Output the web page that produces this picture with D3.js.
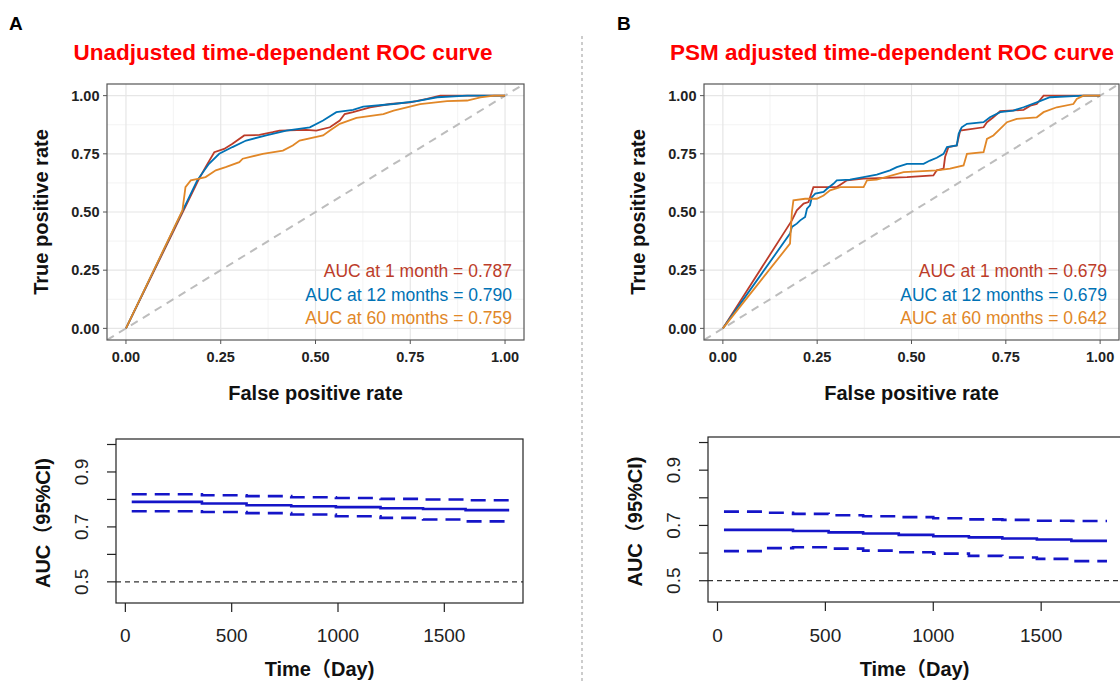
<!DOCTYPE html>
<html lang="en">
<head>
<meta charset="UTF-8">
<title>Time-dependent ROC</title>
<script src="https://cdn.jsdelivr.net/npm/d3@7"></script>
<style>
  body { margin: 0; background: #fff; }
  svg { font-family: "Liberation Sans", Arial, "Noto Sans CJK SC", sans-serif; }
</style>
</head>
<body>
<div class="chart"></div>
<script>
  // ---- ROC data, panel A (unadjusted) ----
  const fprA1  = [0, 0.193, 0.210, 0.233, 0.259, 0.281, 0.312, 0.352, 0.387, 0.405, 0.476, 0.502, 0.538, 0.564, 0.577, 0.599, 0.644, 0.697, 0.750, 0.794, 0.829, 1];
  const tprA1  = [0, 0.643, 0.693, 0.757, 0.771, 0.793, 0.829, 0.831, 0.843, 0.850, 0.853, 0.850, 0.864, 0.893, 0.921, 0.929, 0.950, 0.964, 0.971, 0.986, 1.0, 1];
  const fprA12 = [0, 0.188, 0.219, 0.246, 0.281, 0.317, 0.370, 0.423, 0.485, 0.520, 0.555, 0.599, 0.626, 0.706, 0.767, 0.821, 0.900, 1];
  const tprA12 = [0, 0.636, 0.707, 0.750, 0.779, 0.807, 0.829, 0.850, 0.864, 0.893, 0.929, 0.939, 0.953, 0.964, 0.976, 0.993, 1.0, 1];
  const fprA60 = [0, 0.149, 0.157, 0.171, 0.193, 0.210, 0.237, 0.263, 0.299, 0.308, 0.361, 0.414, 0.440, 0.458, 0.520, 0.538, 0.564, 0.608, 0.679, 0.706, 0.776, 0.847, 0.900, 0.935, 0.971, 1];
  const tprA60 = [0, 0.507, 0.607, 0.636, 0.643, 0.650, 0.679, 0.693, 0.714, 0.729, 0.750, 0.764, 0.786, 0.807, 0.829, 0.850, 0.879, 0.904, 0.921, 0.936, 0.964, 0.976, 0.979, 0.993, 1.0, 1];

  // ---- ROC data, panel B (PSM adjusted) ----
  const fprB1  = [0, 0.183, 0.196, 0.214, 0.227, 0.240, 0.302, 0.329, 0.373, 0.488, 0.558, 0.567, 0.585, 0.589, 0.598, 0.620, 0.629, 0.691, 0.700, 0.717, 0.735, 0.797, 0.815, 0.832, 0.850, 1];
  const tprB1  = [0, 0.464, 0.507, 0.536, 0.543, 0.607, 0.607, 0.636, 0.643, 0.650, 0.657, 0.679, 0.686, 0.736, 0.779, 0.786, 0.850, 0.864, 0.886, 0.907, 0.933, 0.939, 0.957, 0.964, 1.0, 1];
  const fprB12 = [0, 0.178, 0.183, 0.196, 0.205, 0.218, 0.223, 0.231, 0.236, 0.245, 0.267, 0.276, 0.293, 0.302, 0.337, 0.373, 0.408, 0.443, 0.461, 0.488, 0.532, 0.549, 0.567, 0.585, 0.594, 0.620, 0.625, 0.633, 0.647, 0.691, 0.708, 0.735, 0.770, 0.797, 0.832, 0.867, 0.956, 1];
  const tprB12 = [0, 0.407, 0.436, 0.450, 0.464, 0.479, 0.514, 0.529, 0.564, 0.579, 0.586, 0.600, 0.621, 0.636, 0.639, 0.650, 0.661, 0.679, 0.693, 0.707, 0.707, 0.721, 0.733, 0.750, 0.779, 0.786, 0.836, 0.864, 0.879, 0.886, 0.907, 0.929, 0.936, 0.950, 0.971, 0.993, 1.0, 1];
  const fprB60 = [0, 0.178, 0.183, 0.187, 0.218, 0.249, 0.267, 0.284, 0.311, 0.373, 0.382, 0.408, 0.479, 0.567, 0.602, 0.638, 0.647, 0.691, 0.700, 0.717, 0.735, 0.753, 0.779, 0.832, 0.850, 0.885, 0.929, 0.938, 0.956, 1];
  const tprB60 = [0, 0.364, 0.500, 0.550, 0.557, 0.557, 0.571, 0.593, 0.607, 0.607, 0.636, 0.639, 0.671, 0.679, 0.686, 0.700, 0.750, 0.757, 0.814, 0.829, 0.857, 0.886, 0.900, 0.907, 0.929, 0.950, 0.964, 0.986, 1.0, 1];

  const rocTicks = [0, 0.25, 0.5, 0.75, 1];
  const rocTickLabels = ['0.00', '0.25', '0.50', '0.75', '1.00'];
  const seriesNames = ['1 month', '12 months', '60 months'];
  const aucLabelsA = ['AUC at 1 month = 0.787', 'AUC at 12 months = 0.790', 'AUC at 60 months = 0.759'];
  const aucLabelsB = ['AUC at 1 month = 0.679', 'AUC at 12 months = 0.679', 'AUC at 60 months = 0.642'];

  // ---- AUC over time (days) ----
  const timesA = [30, 360, 570, 780, 990, 1200, 1400, 1600, 1805];
  const aucA   = [0.791, 0.785, 0.779, 0.775, 0.772, 0.768, 0.765, 0.761, 0.761];
  const upperA = [0.819, 0.815, 0.812, 0.808, 0.805, 0.802, 0.800, 0.797, 0.797];
  const lowerA = [0.757, 0.754, 0.750, 0.745, 0.739, 0.733, 0.727, 0.720, 0.720];

  const timesB = [30, 210, 350, 515, 675, 840, 1000, 1165, 1320, 1480, 1640, 1805];
  const aucB   = [0.684, 0.684, 0.680, 0.675, 0.671, 0.666, 0.661, 0.657, 0.653, 0.649, 0.644, 0.644];
  const upperB = [0.750, 0.746, 0.742, 0.737, 0.733, 0.730, 0.726, 0.722, 0.720, 0.717, 0.716, 0.716];
  const lowerB = [0.607, 0.618, 0.621, 0.616, 0.609, 0.603, 0.598, 0.590, 0.584, 0.579, 0.571, 0.571];

  const timeTicks = [0, 500, 1000, 1500];
  const aucTicks = [0.5, 0.6, 0.7, 0.8, 0.9, 1.0];
  const aucTickLabels = ['0.5', '0.7', '0.9'];

  const colors = d3.scaleOrdinal().domain(seriesNames).range(['#BC3C29', '#0072B5', '#E18727']);

  const svg = d3.select('.chart').append('svg').attr('width', 1120).attr('height', 682);

  // panel letters + titles + divider
  svg.append('text').attr('x', 9).attr('y', 30).attr('font-size', 19).attr('font-weight', 'bold').text('A');
  svg.append('text').attr('x', 617).attr('y', 30).attr('font-size', 19).attr('font-weight', 'bold').text('B');
  svg.append('text').attr('x', 283).attr('y', 60).attr('text-anchor', 'middle').attr('font-size', 22.5)
    .attr('font-weight', 'bold').attr('fill', '#FF0000').text('Unadjusted time-dependent ROC curve');
  svg.append('text').attr('x', 892).attr('y', 60).attr('text-anchor', 'middle').attr('font-size', 22.5)
    .attr('font-weight', 'bold').attr('fill', '#FF0000').text('PSM adjusted time-dependent ROC curve');
  svg.append('line').attr('x1', 582).attr('x2', 582).attr('y1', 36).attr('y2', 682)
    .attr('stroke', '#999').attr('stroke-dasharray', '3,3');

  function zip(a, b) { return a.map((v, i) => [v, b[i]]); }

  function drawRoc(id, left, right, curves, labels) {
    const x = d3.scaleLinear().domain([-0.05, 1.05]).range([left, right]);
    const y = d3.scaleLinear().domain([-0.05, 1.05]).range([340, 84]);
    const g = svg.append('g');
    g.append('clipPath').attr('id', id).append('rect')
      .attr('x', left).attr('y', 84).attr('width', right - left).attr('height', 256);
    const minor = [0.125, 0.375, 0.625, 0.875];
    g.selectAll('.vmin').data(minor).enter().append('line')
      .attr('x1', d => x(d)).attr('x2', d => x(d)).attr('y1', 84).attr('y2', 340)
      .attr('stroke', '#F0F0F0').attr('stroke-width', 0.8);
    g.selectAll('.hmin').data(minor).enter().append('line')
      .attr('y1', d => y(d)).attr('y2', d => y(d)).attr('x1', left).attr('x2', right)
      .attr('stroke', '#F0F0F0').attr('stroke-width', 0.8);
    g.selectAll('.vmaj').data(rocTicks).enter().append('line')
      .attr('x1', d => x(d)).attr('x2', d => x(d)).attr('y1', 84).attr('y2', 340)
      .attr('stroke', '#E6E6E6').attr('stroke-width', 1.2);
    g.selectAll('.hmaj').data(rocTicks).enter().append('line')
      .attr('y1', d => y(d)).attr('y2', d => y(d)).attr('x1', left).attr('x2', right)
      .attr('stroke', '#E6E6E6').attr('stroke-width', 1.2);

    const plot = g.append('g').attr('clip-path', `url(#${id})`);
    plot.append('line').attr('x1', x(-0.05)).attr('y1', y(-0.05)).attr('x2', x(1.05)).attr('y2', y(1.05))
      .attr('stroke', '#BDBDBD').attr('stroke-width', 2).attr('stroke-dasharray', '8,6');
    const line = d3.line().x(d => x(d[0])).y(d => y(d[1]));
    curves.forEach((c, i) => {
      plot.append('path').datum(c).attr('d', line).attr('fill', 'none')
        .attr('stroke', colors(seriesNames[i])).attr('stroke-width', 1.8);
    });

    g.append('rect').attr('x', left).attr('y', 84).attr('width', right - left).attr('height', 256)
      .attr('fill', 'none').attr('stroke', '#555').attr('stroke-width', 1.2);

    // ticks and labels
    g.selectAll('.xt').data(rocTicks).enter().append('line')
      .attr('x1', d => x(d)).attr('x2', d => x(d)).attr('y1', 340).attr('y2', 344).attr('stroke', '#555');
    g.selectAll('.yt').data(rocTicks).enter().append('line')
      .attr('y1', d => y(d)).attr('y2', d => y(d)).attr('x1', left - 4).attr('x2', left).attr('stroke', '#555');
    g.selectAll('.xl').data(rocTicks).enter().append('text')
      .attr('x', d => x(d)).attr('y', 362).attr('text-anchor', 'middle')
      .attr('font-size', 14.5).attr('font-weight', 'bold').attr('fill', '#222')
      .text((d, i) => rocTickLabels[i]);
    g.selectAll('.yl').data(rocTicks).enter().append('text')
      .attr('x', left - 7.5).attr('y', d => y(d)).attr('dy', '0.36em').attr('text-anchor', 'end')
      .attr('font-size', 14.5).attr('font-weight', 'bold').attr('fill', '#222')
      .text((d, i) => rocTickLabels[i]);

    g.append('text').attr('x', (left + right) / 2).attr('y', 400).attr('text-anchor', 'middle')
      .attr('font-size', 20).attr('font-weight', 'bold').attr('fill', '#111').text('False positive rate');
    g.append('text').attr('transform', `translate(${left - 59},${y(0.5)}) rotate(-90)`)
      .attr('text-anchor', 'middle').attr('font-size', 20).attr('font-weight', 'bold').attr('fill', '#111')
      .text('True positive rate');

    g.selectAll('.auc').data(labels).enter().append('text')
      .attr('x', right - 12).attr('y', (d, i) => 277 + i * 23.5).attr('text-anchor', 'end')
      .attr('font-size', 17.5).attr('fill', (d, i) => colors(seriesNames[i])).text(d => d);
  }

  function drawAuc(left, right, top, bottom, times, auc, upper, lower) {
    const x = d3.scaleLinear().domain([-44, 1870]).range([left, right]);
    const y = d3.scaleLinear().domain([0.423, 1.02]).range([bottom, top]);
    const g = svg.append('g');
    const step = d3.line().curve(d3.curveStepAfter).x(d => x(d[0])).y(d => y(d[1]));

    g.append('line').attr('x1', left).attr('x2', right).attr('y1', y(0.5)).attr('y2', y(0.5))
      .attr('stroke', '#333').attr('stroke-width', 1.2).attr('stroke-dasharray', '5,4');
    g.append('path').datum(zip(times, upper)).attr('d', step).attr('fill', 'none')
      .attr('stroke', '#1515C8').attr('stroke-width', 2.6).attr('stroke-dasharray', '15,8');
    g.append('path').datum(zip(times, lower)).attr('d', step).attr('fill', 'none')
      .attr('stroke', '#1515C8').attr('stroke-width', 2.6).attr('stroke-dasharray', '15,8');
    g.append('path').datum(zip(times, auc)).attr('d', step).attr('fill', 'none')
      .attr('stroke', '#1515C8').attr('stroke-width', 2.6);

    g.append('rect').attr('x', left).attr('y', top).attr('width', right - left).attr('height', bottom - top)
      .attr('fill', 'none').attr('stroke', '#222').attr('stroke-width', 1.2);

    g.selectAll('.xt').data(timeTicks).enter().append('line')
      .attr('x1', d => x(d)).attr('x2', d => x(d)).attr('y1', bottom).attr('y2', bottom + 9)
      .attr('stroke', '#222').attr('stroke-width', 1.2);
    g.selectAll('.xl').data(timeTicks).enter().append('text')
      .attr('x', d => x(d)).attr('y', 642).attr('text-anchor', 'middle')
      .attr('font-size', 19).attr('fill', '#222').text(d => d);
    g.selectAll('.yt').data(aucTicks).enter().append('line')
      .attr('y1', d => y(d)).attr('y2', d => y(d)).attr('x1', left - 9).attr('x2', left)
      .attr('stroke', '#222').attr('stroke-width', 1.2);
    g.selectAll('.yl').data(aucTickLabels).enter().append('text')
      .attr('transform', d => `translate(${left - 28},${y(+d)}) rotate(-90)`)
      .attr('text-anchor', 'middle').attr('font-size', 19).attr('fill', '#222').text(d => d);

    g.append('text').attr('x', (left + right) / 2).attr('y', 676).attr('text-anchor', 'middle')
      .attr('font-size', 20).attr('font-weight', 'bold').attr('fill', '#111').text('Time（Day)');
    g.append('text').attr('transform', `translate(${left - 66},${(top + bottom) / 2 + 2}) rotate(-90)`)
      .attr('text-anchor', 'middle').attr('font-size', 20).attr('font-weight', 'bold').attr('fill', '#111')
      .text('AUC（95%CI)');
  }

  drawRoc('clipA', 107, 524, [zip(fprA1, tprA1), zip(fprA12, tprA12), zip(fprA60, tprA60)], aucLabelsA);
  drawRoc('clipB', 704, 1119, [zip(fprB1, tprB1), zip(fprB12, tprB12), zip(fprB60, tprB60)], aucLabelsB);
  drawAuc(116, 523, 439, 603, timesA, aucA, upperA, lowerA);
  drawAuc(708, 1121, 437, 602, timesB, aucB, upperB, lowerB);
</script>
</body>
</html>
